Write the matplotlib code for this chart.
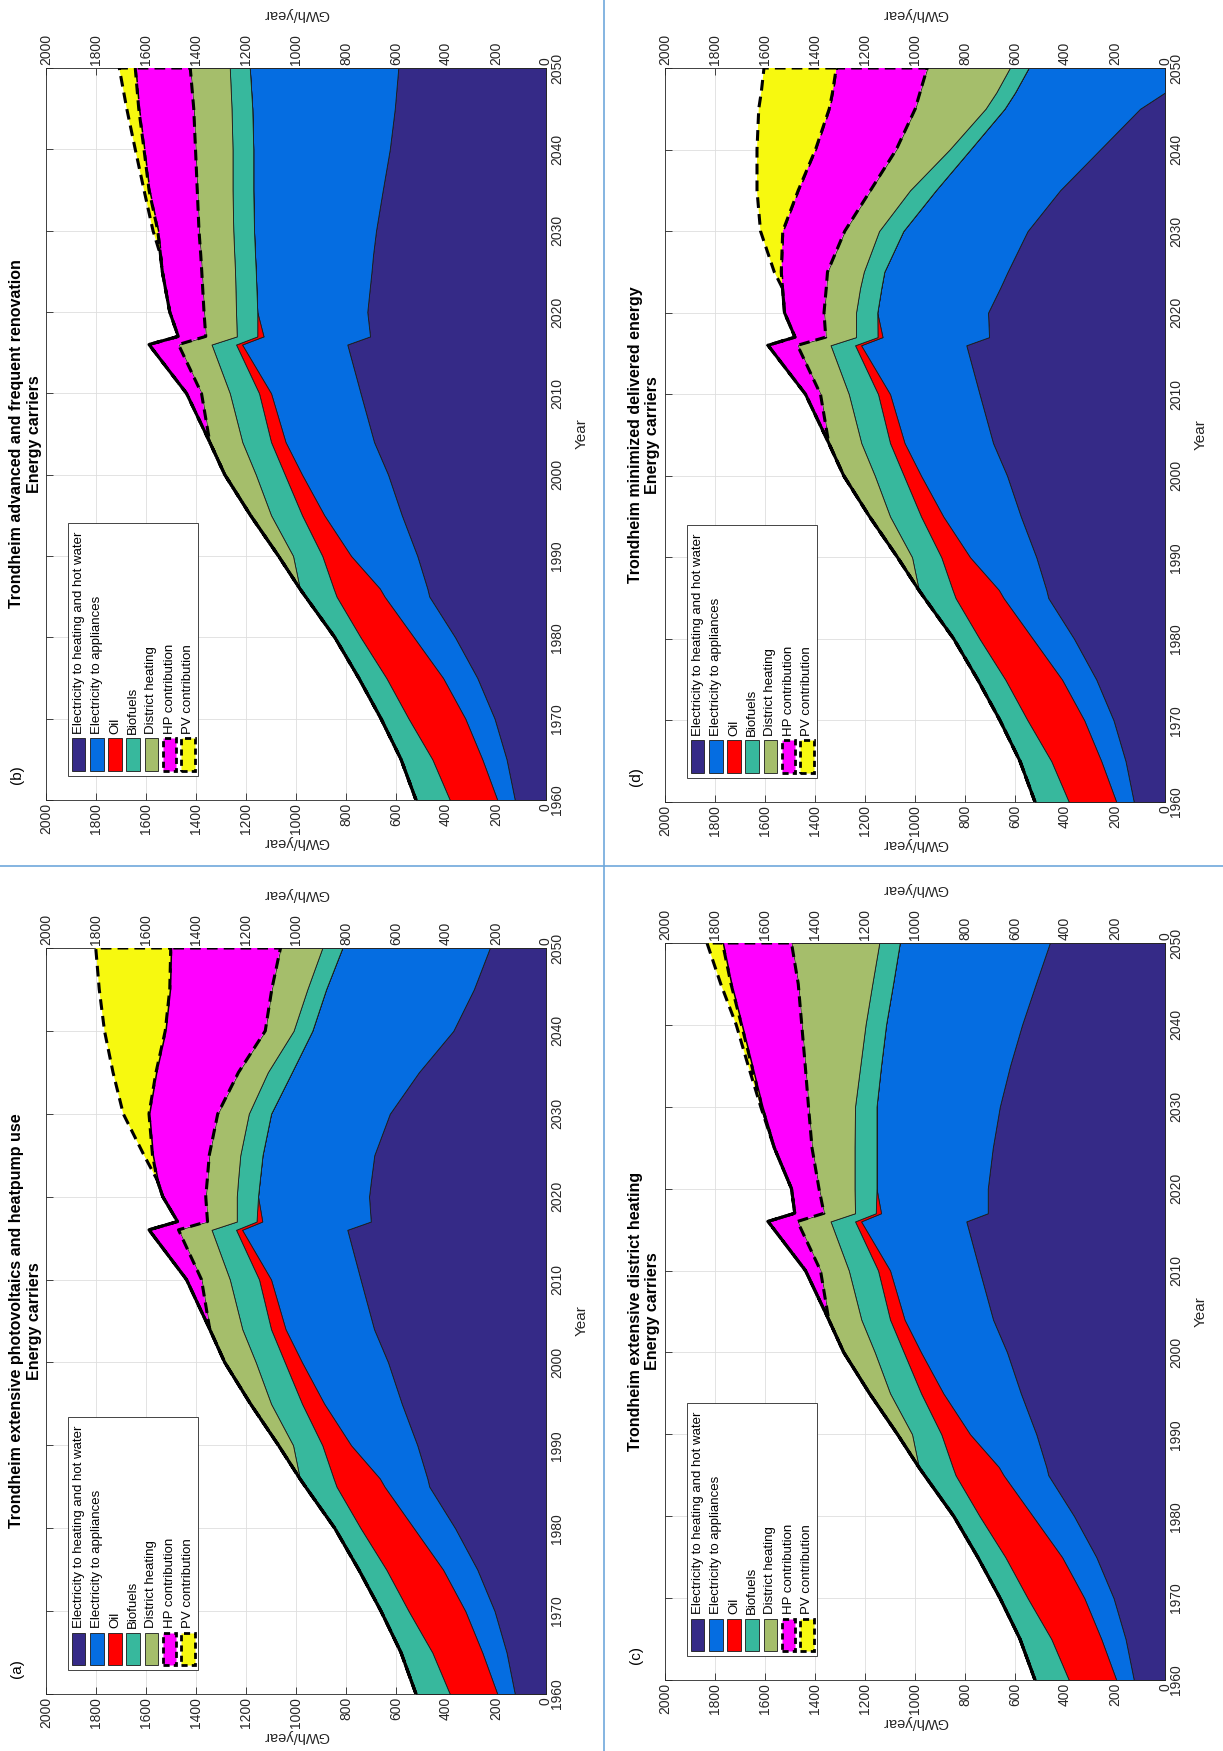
import numpy as np
import matplotlib
matplotlib.use("Agg")
import matplotlib.pyplot as plt
from matplotlib.patches import Rectangle
from matplotlib.lines import Line2D

plt.rcParams['font.family'] = ['Liberation Sans', 'DejaVu Sans']

W, H = 1223, 1751

carriers = ["Electricity to heating and hot water", "Electricity to appliances", "Oil",
            "Biofuels", "District heating", "HP contribution", "PV contribution"]
colors = ["#352A87", "#056DE1", "#FF0000", "#37B89D", "#A5BE6B", "#FF00FF", "#F7F90F"]

# history, the same in all four scenarios (GWh/year per carrier)
hist_years = [1960, 1965, 1970, 1975, 1980, 1985, 1986, 1990, 1995, 2000, 2004, 2010, 2016]
hist_heat = [125, 158, 206, 275, 364, 467, 475, 515, 577, 632, 688, 742, 795]
hist_app = [70, 97, 117, 137, 165, 179, 190, 265, 310, 344, 354, 358, 421]
hist_oil = [190, 200, 227, 227, 213, 192, 185, 115, 89, 69, 58, 48, 24]
hist_bio = [135, 125, 110, 110, 103, 124, 135, 117, 124, 116, 115, 117, 98]
hist_dh = [0, 0, 0, 0, 0, 0, 0, 58, 82, 124, 130, 113, 132]
hist_hp = [0, 0, 0, 0, 0, 0, 0, 0, 0, 0, 0, 60, 118]
hist_pv = [0, 0, 0, 0, 0, 0, 0, 0, 0, 0, 0, 0, 0]

# (a) extensive photovoltaics and heatpump use
a_years = [2017, 2020, 2022, 2025, 2030, 2035, 2040, 2045, 2050]
a_heat = [701, 708, 700, 687, 625, 509, 371, 289, 225]
a_app = [434, 444, 445, 447, 475, 508, 564, 591, 590]
a_oil = [23, 0, 0, 0, 0, 0, 0, 0, 0]
a_bio = [79, 85, 87, 89, 89, 96, 75, 75, 80]
a_dh = [117, 124, 123, 124, 124, 117, 113, 142, 167]
a_hp = [120, 172, 200, 227, 275, 330, 400, 408, 439]
a_pv = [0, 0, 0, 34, 103, 172, 243, 282, 300]

# (b) advanced and frequent renovation
b_years = [2017, 2020, 2025, 2027, 2030, 2035, 2040, 2045, 2050]
b_heat = [704, 715, 698, 692, 680, 653, 625, 605, 591]
b_app = [426, 440, 463, 472, 488, 518, 546, 570, 594]
b_oil = [25, 0, 0, 0, 0, 0, 0, 0, 0]
b_bio = [82, 85, 83, 83, 83, 83, 83, 83, 80]
b_dh = [124, 128, 133, 134, 137, 141, 148, 151, 158]
b_hp = [110, 137, 158, 161, 165, 193, 206, 220, 220]
b_pv = [0, 0, 0, 0, 19, 20, 35, 48, 64]

# (c) extensive district heating
c_years = [2017, 2020, 2025, 2030, 2035, 2040, 2045, 2050]
c_heat = [709, 709, 689, 661, 620, 572, 517, 461]
c_app = [427, 445, 465, 493, 516, 544, 571, 600]
c_oil = [21, 0, 0, 0, 0, 0, 0, 0]
c_bio = [83, 88, 88, 86, 83, 82, 83, 82]
c_dh = [124, 142, 170, 186, 220, 255, 296, 351]
c_hp = [117, 110, 151, 186, 214, 241, 269, 276]
c_pv = [0, 0, 0, 5, 14, 21, 41, 62]

# (d) minimized delivered energy
d_years = [2017, 2020, 2023, 2025, 2030, 2035, 2040, 2045, 2047, 2050]
d_heat = [704, 708, 660, 630, 550, 420, 260, 100, 0, 0]
d_app = [426, 443, 475, 493, 497, 497, 519, 542, 600, 546]
d_oil = [20, 0, 0, 0, 0, 0, 0, 0, 0, 0]
d_bio = [86, 85, 85, 82, 97, 103, 83, 76, 75, 75]
d_dh = [121, 128, 135, 145, 137, 158, 213, 281, 305, 330]
d_hp = [123, 158, 175, 185, 248, 289, 323, 344, 350, 364]
d_pv = [0, 0, 0, 28, 89, 165, 234, 282, 285, 289]

gwh_ticks = list(range(0, 2001, 200))
year_ticks = list(range(1960, 2051, 10))

fig = plt.figure(figsize=(W / 100, H / 100), dpi=100)
dark = "#262626"


def P(x, y):
    return x / W, 1 - y / H


def draw_panel(box, letter, title, years, series):
    left, top, right, bottom = box
    ax = fig.add_axes([left / W, 1 - bottom / H, (right - left) / W, (bottom - top) / H])
    yrs = np.array(years, dtype=float)
    vals = np.array(series, dtype=float)
    upper = np.cumsum(vals, axis=0)
    lower = upper - vals
    for i in range(len(carriers)):
        if i < 5:
            ax.fill_betweenx(yrs, lower[i], upper[i], facecolor=colors[i],
                             edgecolor="#1a1a1a", linewidth=0.6, zorder=2)
        else:
            ax.fill_betweenx(yrs, lower[i], upper[i], facecolor=colors[i],
                             edgecolor="black", linewidth=2.2,
                             linestyle=(0, (3.5, 2.0)), zorder=3 + i)
    ax.set_xlim(2000, 0)
    ax.set_ylim(1960, 2050)
    ax.set_xticks(gwh_ticks)
    ax.set_yticks(year_ticks)
    ax.grid(True, color="#dedede", linewidth=0.6)
    ax.set_axisbelow(True)
    ax.tick_params(axis="x", direction="in", top=True, bottom=True, labeltop=True,
                   labelbottom=True, labelrotation=90, labelsize=10, length=5,
                   width=0.6, colors=dark, pad=2)
    ax.tick_params(axis="y", direction="in", left=True, right=True, labelleft=False,
                   labelright=True, labelrotation=90, labelsize=10, length=5,
                   width=0.6, colors=dark, pad=3)
    for lab in ax.get_yticklabels():
        lab.set_verticalalignment("center")
    for sp in ax.spines.values():
        sp.set_color(dark)
        sp.set_linewidth(0.6)

    cx = (left + right) / 2
    cy = (top + bottom) / 2
    fig.text(*P(cx, bottom + 42), "GWh/year", rotation=180, ha="center", va="center",
             fontsize=10.5, color=dark)
    fig.text(*P(cx, top - 54), "GWh/year", rotation=180, ha="center", va="center",
             fontsize=10.5, color=dark)
    fig.text(*P(right + 36, cy), "Year", rotation=90, ha="center", va="center",
             fontsize=11, color=dark)
    fig.text(*P(left - 29, cy), title, rotation=90, ha="center", va="center",
             fontsize=11.5, fontweight="bold")
    fig.text(*P(left - 12, cy), "Energy carriers", rotation=90, ha="center", va="center",
             fontsize=11.5, fontweight="bold")
    fig.text(*P(left - 29, bottom - 25), "(" + letter + ")", rotation=90, ha="center",
             va="center", fontsize=11)

    # legend, drawn by hand because its text runs upwards
    bx0, bx1 = left + 22, left + 152
    by0, by1 = bottom - 24, bottom - 277
    fig.add_artist(Rectangle(P(bx0, by0), (bx1 - bx0) / W, (by0 - by1) / H,
                             transform=fig.transFigure, facecolor="white",
                             edgecolor=dark, linewidth=0.6, zorder=5))
    for i, name in enumerate(carriers):
        xc = left + 32.6 + 18.2 * i
        if i < 5:
            style = dict(edgecolor="#1a1a1a", linewidth=0.6)
        else:
            style = dict(edgecolor="black", linewidth=2.0, linestyle=(0, (2.2, 1.5)))
        fig.add_artist(Rectangle(P(xc - 6.8, bottom - 29), 13.6 / W, 32.5 / H,
                                 transform=fig.transFigure, facecolor=colors[i],
                                 zorder=6, **style))
        fig.text(*P(xc, bottom - 66), name, rotation=90, ha="center", va="bottom",
                 fontsize=9.5, zorder=7)


panels = [
    ((46, 948, 546, 1694), "a", "Trondheim extensive photovoltaics and heatpump use",
     a_years, [a_heat, a_app, a_oil, a_bio, a_dh, a_hp, a_pv]),
    ((46, 68, 546, 800), "b", "Trondheim advanced and frequent renovation",
     b_years, [b_heat, b_app, b_oil, b_bio, b_dh, b_hp, b_pv]),
    ((665, 943, 1165, 1680), "c", "Trondheim extensive district heating",
     c_years, [c_heat, c_app, c_oil, c_bio, c_dh, c_hp, c_pv]),
    ((665, 68, 1165, 802), "d", "Trondheim minimized delivered energy",
     d_years, [d_heat, d_app, d_oil, d_bio, d_dh, d_hp, d_pv]),
]
hist = [hist_heat, hist_app, hist_oil, hist_bio, hist_dh, hist_hp, hist_pv]

for box, letter, title, yrs, fut in panels:
    series = [h + f for h, f in zip(hist, fut)]
    draw_panel(box, letter, title, hist_years + yrs, series)

# page divider lines
fig.add_artist(Line2D([604 / W, 604 / W], [0, 1], color="#6FA8DC", linewidth=1.2))
fig.add_artist(Line2D([0, 1], [1 - 866 / H, 1 - 866 / H], color="#6FA8DC", linewidth=1.2))

fig.savefig("out.png", dpi=100)
